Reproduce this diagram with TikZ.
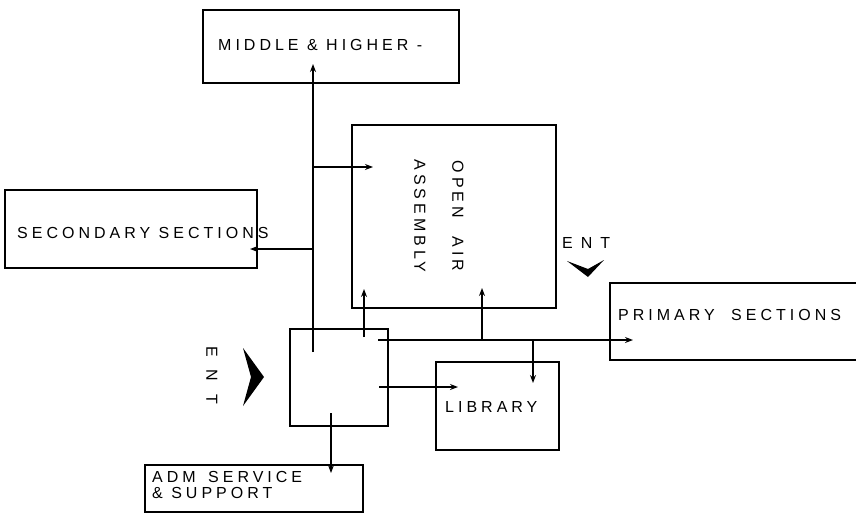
\documentclass[tikz,border=0pt]{standalone}
\usepackage{fontspec}
\newfontfamily\hand[LetterSpace=25]{Liberation Sans}
\usetikzlibrary{arrows.meta}
\begin{document}
\begin{tikzpicture}[x=1pt,y=-1pt,
  box/.style={draw, line width=1.3pt, inner sep=0pt},
  lbl/.style={font=\hand\fontsize{16}{19}\selectfont, inner sep=0pt, anchor=west},
  conn/.style={line width=1.3pt, -{Stealth[length=8pt,width=6pt]}},
  chev/.style={fill=black}
  ]
\clip (0,0) rectangle (856,525);
% boxes
\node[box, minimum width=256pt, minimum height=73pt] (mid) at (331,46.5) {};
\node[box, minimum width=252pt, minimum height=78pt] (sec) at (131,229) {};
\node[box, minimum width=204pt, minimum height=183pt] (oa) at (454,216.5) {};
\node[box, minimum width=260pt, minimum height=77pt] (prim) at (740,321.5) {};
\node[box, minimum width=123pt, minimum height=88pt] (lib) at (497.5,406) {};
\node[box, minimum width=98pt, minimum height=97pt] (hall) at (339,377.5) {};
\node[box, minimum width=218pt, minimum height=47pt] (adm) at (254,488.5) {};
% labels
\node[lbl] (tmid) at (218,45) {MIDDLE \& HIGHER -};
\node[lbl] (tsec) at (17,233) {SECONDARY SECTIONS};
\node[lbl, rotate=-90, anchor=center, align=center, font=\hand\fontsize{16}{38}\selectfont] (toa) at (439,216) {OPEN\hspace{10pt} AIR\\ASSEMBLY};
\node[lbl] (tprim) at (618,315) {PRIMARY\hspace{8pt} SECTIONS};
\node[lbl] (tlib) at (445,407) {LIBRARY};
\node[lbl, align=left, font=\hand\fontsize{16}{16}\selectfont] (tadm) at (152,485) {ADM\hspace{4pt} SERVICE\\\& SUPPORT};
\node[lbl, font=\hand\fontsize{16}{19}\selectfont\addfontfeature{LetterSpace=50}] (tent1) at (562,243) {ENT};
\node[lbl, rotate=-90, anchor=center, font=\hand\fontsize{16}{19}\selectfont\addfontfeature{LetterSpace=80}] (tent2) at (212,375) {ENT};
% entrance chevrons
\fill[chev] (567,261) -- (588,277) -- (604,260) -- (588,269) -- cycle;
\fill[chev] (243,348) -- (264,377) -- (243,406) -- (251,377) -- cycle;
% junction coordinates
\coordinate (vB) at (313,352);
\coordinate (vT) at (313,64);
\coordinate (jOA) at (313,167);
\coordinate (oaL) at (373,167);
\coordinate (jSec) at (313,249);
\coordinate (secR) at (250,249);
\coordinate (hA) at (364,337);
\coordinate (oaB1) at (364,289);
\coordinate (pA) at (378,340);
\coordinate (primL) at (633,340);
\coordinate (j3) at (482,340);
\coordinate (oaB2) at (482,288);
\coordinate (j4) at (533,340);
\coordinate (libT) at (533,383);
\coordinate (lA) at (379,387);
\coordinate (libL) at (458,387);
\coordinate (dA) at (331,413);
\coordinate (admT) at (331,473);
% connectors
\draw[conn] (vB) -- (vT);
\draw[conn] (jOA) -- (oaL);
\draw[conn] (jSec) -- (secR);
\draw[conn] (hA) -- (oaB1);
\draw[conn] (pA) -- (primL);
\draw[conn] (j3) -- (oaB2);
\draw[conn] (j4) -- (libT);
\draw[conn] (lA) -- (libL);
\draw[conn] (dA) -- (admT);
\end{tikzpicture}
\end{document}
